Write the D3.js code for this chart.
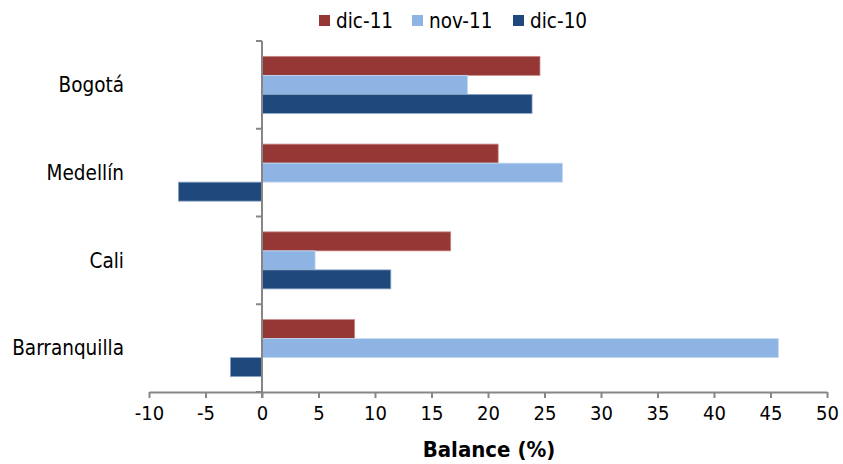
<!DOCTYPE html>
<html><head><meta charset="utf-8">
<script src="https://cdn.jsdelivr.net/npm/d3@7"></script>
<style>body{margin:0;background:#fff}svg{display:block}text{font-family:"DejaVu Sans Condensed","DejaVu Sans",sans-serif;font-stretch:condensed}</style>
</head><body><svg id="c" width="843" height="464"></svg>
<script>
const categories = ["Bogotá","Medellín","Cali","Barranquilla"];
const seriesNames = ["dic-11","nov-11","dic-10"];
const dic11 = [24.6, 20.9, 16.7, 8.2];
const nov11 = [18.2, 26.6, 4.7, 45.7];
const dic10 = [23.9, -7.4, 11.4, -2.8];
const xTicks = [-10,-5,0,5,10,15,20,25,30,35,40,45,50];
const colors = ["#953735","#8EB4E3","#1F497D"];
const strokes = ["#c98b89","#c6daf2","#8ea8c8"];
const values = [dic11, nov11, dic10];

(function(){
const svg = d3.select("#c");
const pLeft = 149, pRight = 827, pTop = 41, pBottom = 392;
const x = d3.scaleLinear().domain([-10,50]).range([pLeft,pRight]);
const y = d3.scaleBand().domain(categories).range([pTop,pBottom]).paddingInner(0.35).paddingOuter(0.175);
const ys = d3.scaleBand().domain(seriesNames).range([0,y.bandwidth()]);
const axisColor = "#868686";

categories.forEach((c,i)=>{
  seriesNames.forEach((s,j)=>{
    const v = values[j][i];
    svg.append("rect")
      .attr("x", x(Math.min(0,v))).attr("y", y(c)+ys(s))
      .attr("width", Math.abs(x(v)-x(0))).attr("height", ys.bandwidth())
      .attr("fill", colors[j]).attr("stroke", strokes[j]).attr("stroke-width", 0.8);
  });
});

const xa = svg.append("g").attr("transform",`translate(0,${pBottom})`)
  .call(d3.axisBottom(x).tickValues(xTicks).tickSize(6).tickSizeOuter(0).tickPadding(8).tickFormat(d=>String(d)));
xa.attr("font-family",null).attr("font-size",null);
xa.select(".domain").attr("stroke",axisColor).attr("stroke-width",2);
xa.selectAll(".tick line").attr("stroke",axisColor).attr("stroke-width",2);
xa.selectAll(".tick text").attr("fill","#000").style("font-size","20px");

const ya = svg.append("g");
ya.append("line").attr("x1",x(0)).attr("x2",x(0)).attr("y1",pTop).attr("y2",pBottom+6).attr("stroke",axisColor).attr("stroke-width",2);
const step = (pBottom-pTop)/categories.length;
d3.range(categories.length+1).forEach(k=>{
  ya.append("line").attr("x1",x(0)-6).attr("x2",x(0)).attr("y1",pTop+k*step).attr("y2",pTop+k*step).attr("stroke",axisColor).attr("stroke-width",2);
});

categories.forEach(c=>{
  svg.append("text").attr("x",124).attr("y",y(c)+y.bandwidth()/2).attr("dy","0.35em")
    .attr("text-anchor","end").style("font-size","20.5px").text(c);
});

svg.append("text").attr("x",489).attr("y",457).attr("text-anchor","middle")
  .style("font-size","22px").style("font-weight","bold").text("Balance (%)");

const legX = [319, 412, 513];
seriesNames.forEach((s,j)=>{
  svg.append("rect").attr("x",legX[j]).attr("y",15).attr("width",11).attr("height",11).attr("fill",colors[j]);
  svg.append("text").attr("x",legX[j]+17).attr("y",21).attr("dy","0.35em").style("font-size","20.5px").text(s);
});
})();
</script></body></html>
